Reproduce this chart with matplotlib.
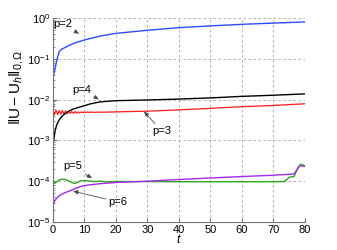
import matplotlib
matplotlib.use("Agg")
import matplotlib.pyplot as plt
from matplotlib.ticker import LogLocator, NullFormatter

plt.rcParams['font.family'] = ['Liberation Sans', 'DejaVu Sans']
plt.rcParams['mathtext.fontset'] = 'custom'
plt.rcParams['mathtext.rm'] = 'Liberation Sans'
plt.rcParams['mathtext.it'] = 'Liberation Sans:italic'
plt.rcParams['mathtext.bf'] = 'Liberation Sans:bold'

# p=2 (blue)
t_p2 = [0, 0.5, 1, 1.5, 2, 2.5, 3, 5, 7, 10, 15, 20, 30, 40, 50, 60, 70, 80]
e_p2 = [0.035, 0.05, 0.075, 0.11, 0.15, 0.165, 0.175, 0.21, 0.245, 0.29, 0.36, 0.42,
        0.50, 0.58, 0.64, 0.70, 0.75, 0.80]

# p=3 (red) with early oscillations
t_p3 = [0, 0.5, 1, 1.5, 2, 2.5, 3, 3.5, 4, 4.5, 5, 5.5, 6, 6.5, 7, 7.5, 8, 8.5, 9, 9.5,
        10, 10.5, 11, 11.5, 12, 12.5, 13, 13.5, 14, 15, 20, 30, 40, 50, 60, 70, 80]
e_p3 = [5.6e-3, 4.3e-3, 5.5e-3, 4.3e-3, 5.4e-3, 4.4e-3, 5.4e-3, 4.4e-3, 5.3e-3, 4.5e-3,
        5.2e-3, 4.6e-3, 5.1e-3, 4.6e-3, 5.1e-3, 4.7e-3, 5.0e-3, 4.7e-3, 5.0e-3, 4.75e-3,
        5.0e-3, 4.8e-3, 5.0e-3, 4.8e-3, 5.0e-3, 4.85e-3, 4.95e-3, 4.85e-3, 4.95e-3,
        4.9e-3, 5.0e-3, 5.2e-3, 5.6e-3, 6.1e-3, 6.7e-3, 7.2e-3, 7.9e-3]

# p=4 (black)
t_p4 = [0, 0.3, 0.7, 1.2, 2, 3, 4.5, 6, 8, 10, 12, 15, 20, 30, 40, 50, 60, 70, 80]
e_p4 = [7.5e-4, 1.1e-3, 1.7e-3, 2.4e-3, 3.2e-3, 4.0e-3, 4.9e-3, 5.7e-3, 6.4e-3, 7.1e-3,
        7.9e-3, 8.8e-3, 9.4e-3, 9.8e-3, 1.03e-2, 1.1e-2, 1.2e-2, 1.28e-2, 1.38e-2]

# p=5 (green)
t_p5 = [0, 1, 2, 3, 4, 5, 6, 7, 8, 9, 10, 11, 13, 15, 17, 20, 30, 40, 50, 60, 70,
        73.5, 75, 76.5, 78, 78.7, 80]
e_p5 = [8.5e-5, 9.5e-5, 1.07e-4, 1.12e-4, 1.1e-4, 1.02e-4, 9.3e-5, 8.8e-5, 9.6e-5,
        1.02e-4, 1.04e-4, 1.02e-4, 9.8e-5, 1.0e-4, 9.7e-5, 9.8e-5, 9.8e-5, 9.7e-5,
        9.7e-5, 9.7e-5, 9.7e-5, 9.8e-5, 1.25e-4, 1.3e-4, 2.3e-4, 2.6e-4, 2.4e-4]

# p=6 (purple)
t_p6 = [0, 0.5, 1, 2, 3.5, 5.4, 7.5, 9.5, 12, 15, 20, 30, 40, 50, 60, 70, 76.5, 78,
        78.5, 80]
e_p6 = [2.5e-5, 3.2e-5, 3.7e-5, 4.4e-5, 5.1e-5, 5.8e-5, 6.8e-5, 7.7e-5, 8.2e-5,
        8.7e-5, 9.3e-5, 1.0e-4, 1.1e-4, 1.2e-4, 1.3e-4, 1.4e-4, 1.5e-4, 2.2e-4,
        2.4e-4, 2.3e-4]

x_ticks = [0, 10, 20, 30, 40, 50, 60, 70, 80]

fig = plt.figure(figsize=(3.37, 2.5), dpi=100)
ax = fig.add_axes([0.157, 0.112, 0.748, 0.816])

ax.plot(t_p2, e_p2, color='#2a4dff', lw=1.0)
ax.plot(t_p3, e_p3, color='#ff1a1a', lw=0.9)
ax.plot(t_p4, e_p4, color='black', lw=1.0)
ax.plot(t_p5, e_p5, color='#2ea81c', lw=1.0)
ax.plot(t_p6, e_p6, color='#a328f0', lw=1.0)

ax.set_yscale('log')
ax.set_xlim(0, 80)
ax.set_ylim(1e-5, 1e0)
ax.set_xticks(x_ticks)
ax.yaxis.set_major_locator(LogLocator(base=10, numticks=10))
ax.yaxis.set_minor_locator(LogLocator(base=10, subs=range(2, 10), numticks=100))
ax.yaxis.set_minor_formatter(NullFormatter())

ax.grid(True, which='major', color='0.65', ls=(0, (3, 3)), lw=0.6)
for s in ['top', 'right']:
    ax.spines[s].set_visible(False)
for s in ['left', 'bottom']:
    ax.spines[s].set_color('0.45')
    ax.spines[s].set_linewidth(0.8)
ax.tick_params(axis='both', which='both', direction='in', color='0.45',
               labelsize=8, pad=2)
ax.tick_params(which='major', length=3)
ax.tick_params(which='minor', length=1.5)

ax.set_xlabel(r'$t$', fontsize=9, labelpad=-1)
ax.set_ylabel(r'$\|\mathrm{U}-\mathrm{U}_h\|_{0,\Omega}$', fontsize=11)
ax.yaxis.set_label_coords(-0.105, 0.66)

arrow = dict(arrowstyle='-|>,head_length=0.35,head_width=0.15', color='0.3', lw=0.6,
             shrinkA=0, shrinkB=0)
fs = 8
ax.annotate('p=2', xy=(8.3, 0.41), xytext=(3.2, 0.71), fontsize=fs,
            ha='center', va='center', arrowprops=arrow)
ax.annotate('p=4', xy=(14.6, 0.0101), xytext=(9.2, 0.0175), fontsize=fs,
            ha='center', va='center', arrowprops=arrow)
ax.annotate('p=3', xy=(28.9, 5.1e-3), xytext=(34.6, 1.66e-3), fontsize=fs,
            ha='center', va='center', arrowprops=arrow)
ax.annotate('p=5', xy=(12.4, 1.18e-4), xytext=(6.4, 2.3e-4), fontsize=fs,
            ha='center', va='center', arrowprops=arrow)
ax.annotate('p=6', xy=(6.4, 5.7e-5), xytext=(20.7, 3.1e-5), fontsize=fs,
            ha='center', va='center', arrowprops=arrow)

fig.savefig('out.png', dpi=100)
